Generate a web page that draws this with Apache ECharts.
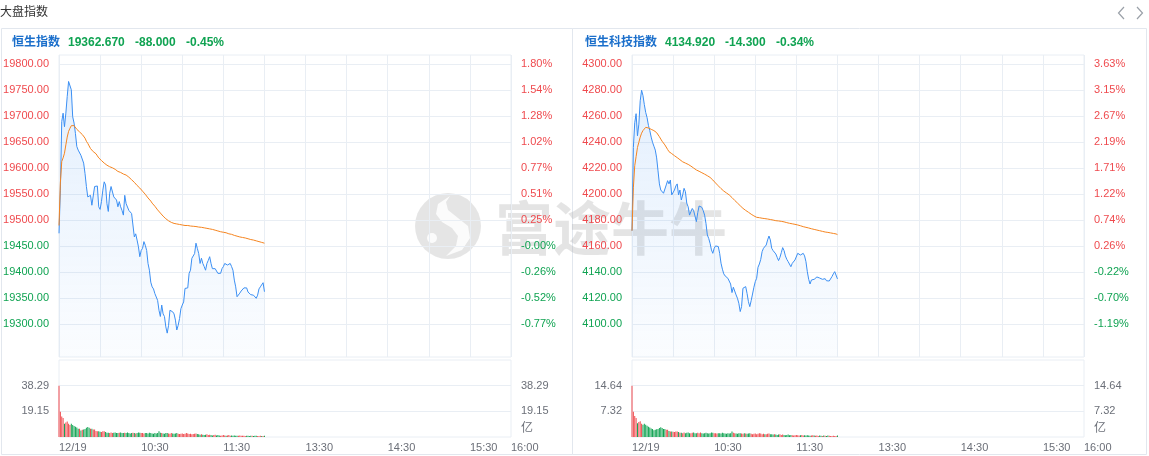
<!DOCTYPE html>
<html>
<head>
<meta charset="utf-8">
<script src="https://cdn.jsdelivr.net/npm/echarts@6/dist/echarts.min.js"></script>
<style>
html,body{margin:0;padding:0;background:#fff;}
#c{width:1149px;height:456px;}
</style>
</head>
<body>
<div id="c"></div>
<script>
// ---------------- DATA ----------------
const headerTitle = '大盘指数';
const tickTimes  = ['09:30', '10:30', '11:30', '13:30', '14:30', '15:30', '16:00'];
const tickLabels = ['12/19', '10:30', '11:30', '13:30', '14:30', '15:30', '16:00'];
const volUnit = '亿';

// 恒生指数
const hsiName = '恒生指数';
const hsiLast = '19362.670', hsiChange = '-88.000', hsiChangePct = '-0.45%';
const hsiPrevClose = 19450.67;
const hsiPriceTicks = [19300, 19350, 19400, 19450, 19500, 19550, 19600, 19650, 19700, 19750, 19800];
const hsiPrice = [
  19475, 19558, 19690, 19706, 19680, 19706, 19738, 19767, 19767, 19751,
  19699, 19687, 19667, 19642, 19635, 19638, 19625, 19628, 19610, 19590,
  19565, 19545, 19542, 19548, 19529, 19532, 19565, 19566, 19566, 19526,
  19521, 19536, 19558, 19574, 19568, 19532, 19517, 19552, 19565, 19568,
  19545, 19542, 19539, 19526, 19536, 19526, 19519, 19510, 19548, 19532,
  19529, 19519, 19516, 19513, 19513, 19468, 19474, 19462, 19449, 19430,
  19442, 19446, 19459, 19452, 19442, 19417, 19404, 19381, 19372, 19368,
  19359, 19356, 19346, 19327, 19315, 19337, 19320, 19315, 19295, 19283,
  19298, 19327, 19330, 19324, 19320, 19308, 19289, 19298, 19311, 19330,
  19337, 19343, 19369, 19369, 19370, 19398, 19404, 19427, 19427, 19436,
  19456, 19446, 19436, 19417, 19427, 19417, 19411, 19404, 19417, 19423,
  19430, 19417, 19407, 19407, 19407, 19404, 19398, 19395, 19398, 19407,
  19411, 19417, 19414, 19414, 19414, 19417, 19411, 19404, 19385, 19372,
  19353, 19356, 19360, 19364, 19364, 19370, 19372, 19370, 19362, 19359,
  19357, 19360, 19356, 19353, 19350, 19356, 19368, 19372, 19370, 19380,
  19362.67
];
const hsiAvg = [
  19490, 19572, 19613, 19620, 19629, 19645, 19660, 19671, 19677, 19682,
  19683, 19682, 19679, 19675, 19672, 19670, 19667, 19665, 19662, 19658,
  19652, 19648, 19643, 19638, 19635, 19632, 19630, 19628, 19624, 19620,
  19617, 19615, 19612, 19610, 19608, 19606, 19604, 19603, 19602, 19601,
  19600, 19598, 19596, 19594, 19593, 19592, 19590, 19589, 19588, 19587,
  19585, 19583, 19580, 19578, 19575, 19573, 19570, 19567, 19565, 19562,
  19560, 19556, 19553, 19550, 19547, 19543, 19540, 19537, 19533, 19530,
  19527, 19524, 19520, 19517, 19514, 19511, 19508, 19506, 19503, 19501,
  19499, 19498, 19496, 19495, 19494, 19493, 19493, 19492, 19492, 19491,
  19491, 19491, 19490, 19490, 19490, 19489.5, 19489, 19489, 19488.5, 19488,
  19488, 19487.5, 19487, 19487, 19486.5, 19486, 19485.5, 19485, 19484.5, 19484,
  19483.5, 19483, 19482.5, 19482, 19481, 19480, 19479.5, 19479, 19478, 19477.5,
  19477, 19476.5, 19476, 19475, 19474, 19473.5, 19473, 19472, 19471, 19470,
  19469.5, 19469, 19468, 19467.5, 19467, 19466.5, 19466, 19465, 19464.5, 19464,
  19463, 19462.5, 19462, 19461, 19460.5, 19460, 19459, 19458, 19457.5, 19457,
  19456
];
const hsiVolume = [
  38.29, 18.9, 15.2, 14.2, 9.8, 10.8, 11.5, 9.8, 9.0, 9.8,
  9.0, 8.2, 7.6, 7.1, 6.1, 6.1, 4.9, 5.4, 5.6, 5.9,
  6.9, 7.4, 6.9, 6.1, 6.1, 5.6, 5.6, 4.4, 4.2, 4.2,
  4.0, 3.7, 4.2, 4.2, 3.7, 3.2, 3.2, 3.0, 3.4, 3.0,
  3.2, 3.4, 3.0, 2.9, 3.2, 3.4, 2.9, 3.0, 3.2, 2.9,
  3.4, 3.0, 2.7, 2.9, 3.2, 3.0, 2.7, 2.9, 3.4, 3.2,
  3.0, 2.9, 2.7, 3.0, 2.9, 2.7, 3.2, 2.9, 2.7, 2.5,
  2.9, 2.7, 3.0, 4.2, 3.2, 2.9, 2.7, 2.5, 2.9, 3.0,
  2.7, 2.5, 2.9, 2.7, 2.5, 2.7, 2.9, 2.5, 2.2, 2.5,
  2.7, 2.2, 2.5, 2.9, 2.7, 2.2, 2.5, 2.0, 2.2, 2.5,
  2.7, 2.2, 2.0, 1.7, 2.0, 1.7, 1.5, 1.7, 2.0, 1.5,
  1.7, 1.5, 1.2, 1.5, 1.7, 1.2, 1.5, 1.2, 1.0, 1.2,
  1.5, 1.2, 1.0, 1.2, 1.5, 1.0, 1.2, 1.0, 1.2, 1.0,
  0.9, 1.0, 1.2, 1.0, 0.9, 1.0, 0.8, 1.0, 0.9, 0.8,
  1.0, 0.9, 0.8, 1.0, 0.9, 0.8, 0.7, 0.9, 0.8, 0.7,
  1.0
];
const hsiVolTicks = [19.15, 38.29];

// 恒生科技指数
const hstName = '恒生科技指数';
const hstLast = '4134.920', hstChange = '-14.300', hstChangePct = '-0.34%';
const hstPrevClose = 4149.22;
const hstPriceTicks = [4100, 4120, 4140, 4160, 4180, 4200, 4220, 4240, 4260, 4280, 4300];
const hstPrice = [
  4172, 4236, 4255, 4262, 4245, 4254, 4272, 4280, 4276, 4269,
  4263, 4259, 4253, 4249, 4244, 4240, 4237, 4234, 4228, 4218,
  4208, 4203.3, 4202.7, 4200.8, 4199.5, 4207.2, 4210.5, 4208, 4211, 4199.5,
  4200, 4203.3, 4206.4, 4208, 4199.5, 4203.3, 4195.6, 4199.5, 4204.6, 4202,
  4193, 4190.4, 4184, 4186.6, 4189.1, 4187.4, 4183.3, 4179, 4185.9, 4191,
  4191.8, 4190, 4187.4, 4184, 4177.7, 4168.7, 4166.1, 4162.3, 4157.2, 4154.6,
  4158.5, 4160.3, 4161.8, 4159.8, 4154.6, 4147, 4142.4, 4138.8, 4137.2, 4136.7,
  4135.4, 4134.1, 4131, 4124.4, 4128.5, 4129, 4122.6, 4120, 4116.2, 4109.8,
  4113.6, 4127.7, 4126.4, 4129, 4123.8, 4117.4, 4113.6, 4118.2, 4123.3, 4128.5,
  4132.8, 4135.4, 4143.9, 4146.4, 4150, 4155.9, 4158.5, 4158.2, 4161, 4164.9,
  4167.9, 4164.9, 4158.5, 4156.7, 4156.7, 4154.1, 4151.5, 4149, 4151.5, 4155.1,
  4159, 4156.7, 4152.6, 4150, 4148.2, 4146.9, 4144.3, 4146.9, 4147.4, 4149.5,
  4150.8, 4154.6, 4155.1, 4153.3, 4154.1, 4154.6, 4152.6, 4148.2, 4140.5, 4134.6,
  4131, 4134.1, 4135.4, 4134.6, 4135.4, 4136.4, 4136.4, 4135.6, 4134.6, 4134.6,
  4134.1, 4135.1, 4133.5, 4132.8, 4133.3, 4134.1, 4136.7, 4138.8, 4140.5, 4141.8,
  4134.92
];
const hstAvg = [
  4172, 4205, 4222, 4229, 4236, 4240, 4244, 4247, 4249, 4250.5,
  4251.5, 4251.5, 4251, 4250.5, 4250, 4249.5, 4249, 4248, 4247.4, 4246,
  4244.3, 4242.5, 4240.8, 4239.5, 4238, 4236.6, 4234.5, 4232.8, 4232, 4231.3,
  4230.5, 4229.7, 4229, 4228.2, 4227.4, 4226.6, 4225.8, 4225, 4224.5, 4224,
  4223.5, 4223, 4222.5, 4221.7, 4221, 4220.2, 4219.5, 4218.7, 4218.2, 4217.7,
  4217.1, 4216.6, 4216.1, 4215.5, 4214.9, 4214.3, 4213.7, 4213, 4212, 4211,
  4210, 4208.7, 4207.5, 4206.5, 4205.5, 4204.4, 4203.3, 4202.5, 4201.8, 4201,
  4200.2, 4199.5, 4198.5, 4197.5, 4196.4, 4195.3, 4194.3, 4193.3, 4192.3, 4191.2,
  4190.2, 4189.2, 4188.4, 4187.6, 4186.9, 4186.2, 4185.4, 4184.7, 4184, 4183.4,
  4182.8, 4182.3, 4182.1, 4182, 4181.8, 4181.6, 4181.5, 4181.3, 4181.2, 4181,
  4180.8, 4180.6, 4180.4, 4180.2, 4180, 4179.7, 4179.6, 4179.5, 4179.3, 4179.2,
  4179, 4178.8, 4178.5, 4178.2, 4178, 4177.7, 4177.5, 4177.3, 4177.1, 4176.9,
  4176.7, 4176.4, 4176.1, 4175.8, 4175.4, 4175.1, 4174.8, 4174.6, 4174.3, 4174.1,
  4173.8, 4173.5, 4173.3, 4173, 4172.8, 4172.5, 4172.2, 4172, 4171.7, 4171.5,
  4171.2, 4171, 4170.9, 4170.7, 4170.5, 4170.3, 4170.1, 4169.9, 4169.7, 4169.5,
  4169
];
const hstVolume = [
  14.64, 7.2, 6.0, 5.4, 3.9, 4.3, 4.5, 3.8, 3.5, 3.8,
  3.5, 3.2, 2.9, 2.7, 2.4, 2.3, 1.9, 2.1, 2.2, 2.3,
  2.6, 2.8, 2.6, 2.3, 2.3, 2.1, 2.1, 1.7, 1.6, 1.6,
  1.5, 1.4, 1.6, 1.6, 1.4, 1.2, 1.2, 1.1, 1.3, 1.1,
  1.2, 1.3, 1.1, 1.1, 1.2, 1.3, 1.1, 1.1, 1.2, 1.1,
  1.3, 1.1, 1.0, 1.1, 1.2, 1.1, 1.0, 1.1, 1.3, 1.2,
  1.1, 1.1, 1.0, 1.1, 1.1, 1.0, 1.2, 1.1, 1.0, 0.9,
  1.1, 1.0, 1.1, 1.6, 1.2, 1.1, 1.0, 0.9, 1.1, 1.1,
  1.0, 0.9, 1.1, 1.0, 0.9, 1.0, 1.1, 0.9, 0.8, 0.9,
  1.0, 0.8, 0.9, 1.1, 1.0, 0.8, 0.9, 0.8, 0.8, 0.9,
  1.0, 0.8, 0.8, 0.7, 0.8, 0.7, 0.6, 0.7, 0.8, 0.6,
  0.7, 0.6, 0.5, 0.6, 0.7, 0.5, 0.6, 0.5, 0.4, 0.5,
  0.6, 0.5, 0.4, 0.5, 0.6, 0.4, 0.5, 0.4, 0.5, 0.4,
  0.35, 0.4, 0.5, 0.4, 0.35, 0.4, 0.3, 0.4, 0.35, 0.3,
  0.4, 0.35, 0.3, 0.4, 0.35, 0.3, 0.3, 0.35, 0.3, 0.3,
  0.4
];
const hstVolTicks = [7.32, 14.64];

// ---------------- TIME AXIS (trading minutes 09:30-12:00, 13:01-16:00) ----------------
function hhmm(min) {
  const h = Math.floor(min / 60), m = min % 60;
  return (h < 10 ? '0' : '') + h + ':' + (m < 10 ? '0' : '') + m;
}
const times = [];
for (let t = 570; t <= 720; t++) times.push(hhmm(t));
for (let t = 781; t <= 960; t++) times.push(hhmm(t));

// ---------------- STYLE ----------------
const FONT = '"Liberation Sans", Arial, "Noto Sans CJK SC", sans-serif';
const RED = '#ef4a4e', GREEN = '#10a352', BLUE_TITLE = '#1b6fcb';
const LINE_BLUE = '#3b8ff3', AVG_ORANGE = '#f5841f';
const GRID_LINE = '#e9eef4', AXIS_GRAY = '#6b6f78';

const chart = echarts.init(document.getElementById('c'), null, { renderer: 'canvas' });

const option = {
  animation: false,
  textStyle: { fontFamily: FONT },
  grid: [], xAxis: [], yAxis: [], series: [], graphic: []
};

function addPanel(p) {
  const gi = option.grid.length;
  option.grid.push({ left: p.left, width: 452, top: 55, height: 302, show: true,
    borderColor: GRID_LINE, borderWidth: 1, containLabel: false });
  option.grid.push({ left: p.left, width: 452, top: 360, height: 77, show: true,
    borderColor: GRID_LINE, borderWidth: 1, containLabel: false });

  const xi = option.xAxis.length;
  option.xAxis.push({
    gridIndex: gi, type: 'category', data: times, boundaryGap: false,
    axisLine: { show: false }, axisTick: { show: false }, axisLabel: { show: false },
    splitLine: { show: true, interval: (i) => i % 30 === 0, lineStyle: { color: GRID_LINE, width: 1 } }
  });
  const labelIdx = tickTimes.map(t => times.indexOf(t));
  option.xAxis.push({
    gridIndex: gi + 1, type: 'category', data: times, boundaryGap: false,
    axisLine: { show: false }, axisTick: { show: false },
    axisLabel: {
      show: true, interval: (i) => labelIdx.indexOf(i) >= 0,
      formatter: (v) => tickLabels[tickTimes.indexOf(v)],
      align: 'left', color: AXIS_GRAY, fontSize: 11, margin: 5, fontFamily: FONT
    },
    splitLine: { show: false }
  });

  const yi = option.yAxis.length;
  const prev = p.prevClose;
  const priceColor = (v) => (Number(v) > prev ? RED : GREEN);
  option.yAxis.push({
    gridIndex: gi, type: 'value', position: 'left', min: p.yMin, max: p.yMax,
    axisLine: { show: false }, axisTick: { show: false, customValues: p.priceTicks },
    axisLabel: { customValues: p.priceTicks, formatter: (v) => Number(v).toFixed(2),
      color: priceColor, fontSize: 11, margin: 10, fontFamily: FONT },
    splitLine: { show: true, lineStyle: { color: GRID_LINE, width: 1 } }
  });
  option.yAxis.push({
    gridIndex: gi, type: 'value', position: 'right', min: p.yMin, max: p.yMax,
    axisLine: { show: false }, axisTick: { show: false, customValues: p.priceTicks },
    axisLabel: { customValues: p.priceTicks,
      formatter: (v) => ((Number(v) / prev - 1) * 100).toFixed(2) + '%',
      color: priceColor, fontSize: 11, margin: 10, fontFamily: FONT },
    splitLine: { show: false }
  });
  const vMax = Math.max.apply(null, p.volume);
  option.yAxis.push({
    gridIndex: gi + 1, type: 'value', position: 'left', min: 0, max: vMax * 1.5,
    axisLine: { show: false }, axisTick: { show: false, customValues: p.volTicks },
    axisLabel: { customValues: p.volTicks, formatter: (v) => Number(v).toFixed(2),
      color: AXIS_GRAY, fontSize: 11, margin: 10, fontFamily: FONT },
    splitLine: { show: true, lineStyle: { color: GRID_LINE, width: 1 } }
  });
  option.yAxis.push({
    gridIndex: gi + 1, type: 'value', position: 'right', min: 0, max: vMax * 1.5,
    axisLine: { show: false }, axisTick: { show: false, customValues: p.volTicks },
    axisLabel: { customValues: p.volTicks, formatter: (v) => Number(v).toFixed(2),
      color: AXIS_GRAY, fontSize: 11, margin: 10, fontFamily: FONT },
    splitLine: { show: false }
  });

  option.series.push({
    type: 'line', xAxisIndex: xi, yAxisIndex: yi, data: p.price, symbol: 'none',
    lineStyle: { color: LINE_BLUE, width: 1 }, itemStyle: { color: LINE_BLUE },
    areaStyle: { origin: 'start', color: {
      type: 'linear', x: 0, y: 0, x2: 0, y2: 1,
      colorStops: [
        { offset: 0, color: 'rgba(59,143,243,0.20)' },
        { offset: 1, color: 'rgba(59,143,243,0.03)' }
      ] } },
    z: 3
  });
  option.series.push({
    type: 'line', xAxisIndex: xi, yAxisIndex: yi, data: p.avg, symbol: 'none',
    lineStyle: { color: AVG_ORANGE, width: 1 }, itemStyle: { color: AVG_ORANGE }, z: 4
  });
  option.series.push({
    type: 'bar', xAxisIndex: xi + 1, yAxisIndex: yi + 2, data: p.volume, barWidth: 1,
    itemStyle: { color: (pr) => {
      const i = pr.dataIndex;
      const before = i === 0 ? prev : p.price[i - 1];
      return p.price[i] >= before ? RED : GREEN;
    } }
  });

  option.graphic.push({ type: 'rect', z: 0, silent: true,
    shape: { x: p.frameX + 0.5, y: 28.5, width: p.frameW, height: 426 },
    style: { fill: 'none', stroke: '#e2e7ee', lineWidth: 1 } });
  const titleParts = [
    { text: p.name, x: p.titleX[0], color: BLUE_TITLE },
    { text: p.last, x: p.titleX[1], color: GREEN },
    { text: p.change, x: p.titleX[2], color: GREEN },
    { text: p.changePct, x: p.titleX[3], color: GREEN }
  ];
  titleParts.forEach(t => option.graphic.push({ type: 'text', z: 10, silent: true,
    style: { x: t.x, y: 43, text: t.text, fill: t.color, fontSize: 12, fontWeight: 'bold',
      fontFamily: FONT, verticalAlign: 'middle', align: 'left' } }));
  option.graphic.push({ type: 'text', z: 10, silent: true,
    style: { x: p.left + 452 + 10, y: 429, text: volUnit, fill: AXIS_GRAY, fontSize: 12,
      fontFamily: FONT, verticalAlign: 'middle', align: 'left' } });
}

addPanel({ left: 59, frameX: 1, frameW: 571, prevClose: hsiPrevClose, yMin: 19237.1, yMax: 19817.9,
  priceTicks: hsiPriceTicks, volTicks: hsiVolTicks, price: hsiPrice, avg: hsiAvg, volume: hsiVolume,
  name: hsiName, last: hsiLast, change: hsiChange, changePct: hsiChangePct,
  titleX: [12, 68, 135, 186] });
addPanel({ left: 632, frameX: 572, frameW: 574, prevClose: hstPrevClose, yMin: 4074.85, yMax: 4307.15,
  priceTicks: hstPriceTicks, volTicks: hstVolTicks, price: hstPrice, avg: hstAvg, volume: hstVolume,
  name: hstName, last: hstLast, change: hstChange, changePct: hstChangePct,
  titleX: [585, 665, 725, 776] });

option.graphic.push({ type: 'text', z: 10, silent: true,
  style: { x: 0, y: 13, text: headerTitle, fill: '#333', fontSize: 12, fontFamily: FONT, verticalAlign: 'middle' } });
option.graphic.push({ type: 'polyline', z: 10, silent: true,
  shape: { points: [[1124, 7], [1118.5, 13], [1124, 19]] }, style: { stroke: '#9aa0a8', lineWidth: 1.2, fill: null } });
option.graphic.push({ type: 'polyline', z: 10, silent: true,
  shape: { points: [[1137, 7], [1142.5, 13], [1137, 19]] }, style: { stroke: '#9aa0a8', lineWidth: 1.2, fill: null } });

// watermark
option.graphic.push({ type: 'group', z: 1, silent: true, children: [
  { type: 'circle', shape: { cx: 448, cy: 226, r: 33 }, style: { fill: 'rgba(170,170,170,0.30)' } },
  { type: 'polygon', shape: { points: [[450,196],[438,204],[436,214],[442,222],[452,228],[458,236],[456,246],[446,256],[462,250],[470,238],[468,226],[458,218],[448,210],[446,202]] },
    style: { fill: 'rgba(255,255,255,0.85)' } },
  { type: 'circle', shape: { cx: 432, cy: 238, r: 5 }, style: { fill: 'rgba(255,255,255,0.85)' } },
  { type: 'text', style: { x: 495, y: 228, text: '富途牛牛', fill: 'rgba(165,165,165,0.30)', fontSize: 58,
      fontWeight: 'bold', fontFamily: '"Noto Sans CJK SC", sans-serif', verticalAlign: 'middle', align: 'left' } }
] });

chart.setOption(option);
</script>
</body>
</html>
